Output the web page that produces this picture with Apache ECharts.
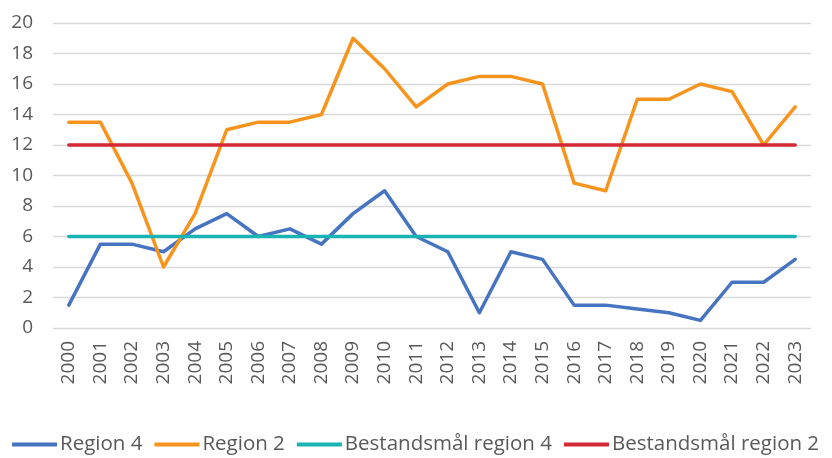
<!DOCTYPE html>
<html>
<head>
<meta charset="utf-8">
<script src="https://cdn.jsdelivr.net/npm/echarts@6/dist/echarts.min.js"></script>
<style>
  html, body { margin: 0; padding: 0; background: #fff; }
  #main { width: 832px; height: 458px; }
</style>
</head>
<body>
<div id="main"></div>
<script>
// data
const years = ['2000', '2001', '2002', '2003', '2004', '2005', '2006', '2007', '2008', '2009', '2010', '2011',
  '2012', '2013', '2014', '2015', '2016', '2017', '2018', '2019', '2020', '2021', '2022', '2023'];
const region4 = [1.5, 5.5, 5.5, 5, 6.5, 7.5, 6, 6.5, 5.5, 7.5, 9, 6, 5, 1, 5, 4.5, 1.5, 1.5, 1.25, 1, 0.5, 3, 3, 4.5];
const region2 = [13.5, 13.5, 9.5, 4, 7.5, 13, 13.5, 13.5, 14, 19, 17, 14.5, 16, 16.5, 16.5, 16, 9.5, 9, 15, 15, 16, 15.5, 12, 14.5];
const target4 = years.map(() => 6);
const target2 = years.map(() => 12);

const font = '"Open Sans", sans-serif';
const textColor = '#595959';

let myChart = echarts.init(document.getElementById('main'));

function line(name, data, color) {
  return {
    name: name,
    type: 'line',
    data: data,
    symbol: 'none',
    lineStyle: { width: 3.5, color: color, cap: 'round', join: 'round' },
    itemStyle: { color: color }
  };
}

let option = {
  animation: false,
  textStyle: { fontFamily: font },
  grid: { left: 53, right: 21, top: 23, bottom: 130 },
  legend: {
    left: 12,
    top: 434,
    width: 830,
    padding: 0,
    itemWidth: 45,
    itemHeight: 4,
    itemGap: 12,
    textStyle: { fontSize: 20.5, color: textColor, fontFamily: font, padding: [0, 0, 0, -2] },
    data: [
      { name: 'Region 4', icon: 'rect' },
      { name: 'Region 2', icon: 'rect' },
      { name: 'Bestandsmål region 4', icon: 'rect' },
      { name: 'Bestandsmål region 2', icon: 'rect' }
    ]
  },
  xAxis: {
    type: 'category',
    data: years,
    boundaryGap: true,
    axisLine: { show: false },
    axisTick: { show: false },
    axisLabel: { rotate: 90, fontSize: 19, color: textColor, margin: 13, interval: 0 }
  },
  yAxis: {
    type: 'value',
    min: 0,
    max: 20,
    interval: 2,
    axisLine: { show: false },
    axisTick: { show: false },
    axisLabel: { fontSize: 19, color: textColor, margin: 20 },
    splitLine: { lineStyle: { color: '#d9d9d9', width: 1.3 } }
  },
  series: [
    line('Region 4', region4, '#4674C1'),
    line('Region 2', region2, '#F7941E'),
    line('Bestandsmål region 4', target4, '#1AB3B3'),
    line('Bestandsmål region 2', target2, '#D42A35')
  ]
};
myChart.setOption(option);
</script>
</body>
</html>
